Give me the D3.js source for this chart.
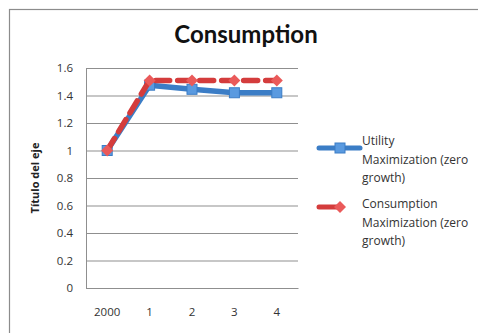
<!DOCTYPE html>
<html><head><meta charset="utf-8">
<script src="https://cdn.jsdelivr.net/npm/d3@7"></script>
<style>body{margin:0;background:#fff}svg{display:block}</style>
</head><body><svg id="c" width="478" height="333"></svg>
<script>
const categories = ["2000", "1", "2", "3", "4"];
const utilityValues = [1.0, 1.475, 1.445, 1.42, 1.42];
const consumptionValues = [1.0, 1.51, 1.51, 1.51, 1.51];
const yTicks = [0, 0.2, 0.4, 0.6, 0.8, 1, 1.2, 1.4, 1.6];
const seriesNames = ["Utility Maximization (zero growth)", "Consumption Maximization (zero growth)"];
const titleText = "Consumption";
const yAxisTitle = "Título del eje";

const svg = d3.select("#c");
const font = "'Open Sans', sans-serif";
const tfont = "Lato, sans-serif";
svg.append("rect").attr("x", 9.5).attr("y", 9.5).attr("width", 480).attr("height", 340)
  .attr("fill", "#fff").attr("stroke", "#8c8c8c").attr("stroke-width", 1.2);

const L = 86, R = 298, T = 68, B = 288;
const x = d3.scaleBand().domain(categories).range([L, R]);
const y = d3.scaleLinear().domain([0, 1.6]).range([B, T]);

svg.append("text").attr("x", 246).attr("y", 43).attr("text-anchor", "middle")
  .attr("font-family", tfont).attr("font-weight", "bold").attr("font-size", 24).attr("fill", "#111").text(titleText);

const yAxis = d3.axisLeft(y).tickValues(yTicks).tickSize(-(R - L)).tickPadding(13)
  .tickFormat(d => d3.format("")(d));
const gy = svg.append("g").attr("transform", `translate(${L},0)`).call(yAxis);
gy.select(".domain").remove();
gy.selectAll(".tick line").attr("stroke", "#8f8f8f").attr("stroke-width", 1);
gy.selectAll(".tick text").attr("font-family", font).attr("font-size", 11.5).attr("fill", "#333");
svg.append("line").attr("x1", L + 0.5).attr("x2", L + 0.5).attr("y1", T).attr("y2", B).attr("stroke", "#8f8f8f");

const xAxis = d3.axisBottom(x).tickSize(0).tickPadding(20);
const gx = svg.append("g").attr("transform", `translate(0,${B})`).call(xAxis);
gx.select(".domain").attr("stroke", "#8f8f8f");
gx.selectAll(".tick text").attr("font-family", font).attr("font-size", 11.5).attr("fill", "#333");

svg.append("text").attr("transform", `translate(39,${(T + B) / 2}) rotate(-90)`).attr("text-anchor", "middle")
  .attr("font-family", font).attr("font-weight", "bold").attr("font-size", 11).attr("fill", "#222").text(yAxisTitle);

const cx = d => x(d) + x.bandwidth() / 2;
const line = d3.line().x((d, i) => cx(categories[i])).y(d => y(d));

const blue = "#3b7dc6", blueM = "#5a9ae0", red = "#d43c3c", redM = "#ea5a5a";

svg.append("path").datum(utilityValues).attr("d", line).attr("fill", "none")
  .attr("stroke", blue).attr("stroke-width", 5.5).attr("stroke-linejoin", "round");
svg.selectAll(".sq").data(utilityValues).join("rect")
  .attr("x", (d, i) => cx(categories[i]) - 5).attr("y", d => y(d) - 5).attr("width", 10).attr("height", 10)
  .attr("fill", blueM).attr("stroke", blue).attr("stroke-width", 1);

svg.append("path").datum(consumptionValues).attr("d", line).attr("fill", "none")
  .attr("stroke", red).attr("stroke-width", 5.5).attr("stroke-dasharray", "14,8").attr("stroke-linecap", "round");
const diamond = (cxp, cyp, r) => `M${cxp},${cyp - r}L${cxp + r},${cyp}L${cxp},${cyp + r}L${cxp - r},${cyp}Z`;
svg.selectAll(".dm").data(consumptionValues).join("path")
  .attr("d", (d, i) => diamond(cx(categories[i]), y(d), 6)).attr("fill", redM);

const lg = svg.append("g");
lg.append("line").attr("x1", 319).attr("x2", 360).attr("y1", 148).attr("y2", 148)
  .attr("stroke", blue).attr("stroke-width", 5).attr("stroke-linecap", "round");
lg.append("rect").attr("x", 335).attr("y", 143).attr("width", 10).attr("height", 10)
  .attr("fill", blueM).attr("stroke", blue);
lg.append("line").attr("x1", 319).attr("x2", 338).attr("y1", 207).attr("y2", 207)
  .attr("stroke", red).attr("stroke-width", 5).attr("stroke-linecap", "round");
lg.append("path").attr("d", diamond(340, 207, 6)).attr("fill", redM);

const legLines = [["Utility", "Maximization (zero", "growth)"], ["Consumption", "Maximization (zero", "growth)"]];
const legY = [149, 212];
legLines.forEach((lines, k) => {
  const t = lg.append("text").attr("x", 362).attr("y", legY[k] - 4).attr("font-family", font)
    .attr("font-size", 12).attr("fill", "#333");
  lines.forEach((s, j) => t.append("tspan").attr("x", 362).attr("dy", j === 0 ? 0 : 18.5).text(s));
});
</script></body></html>
